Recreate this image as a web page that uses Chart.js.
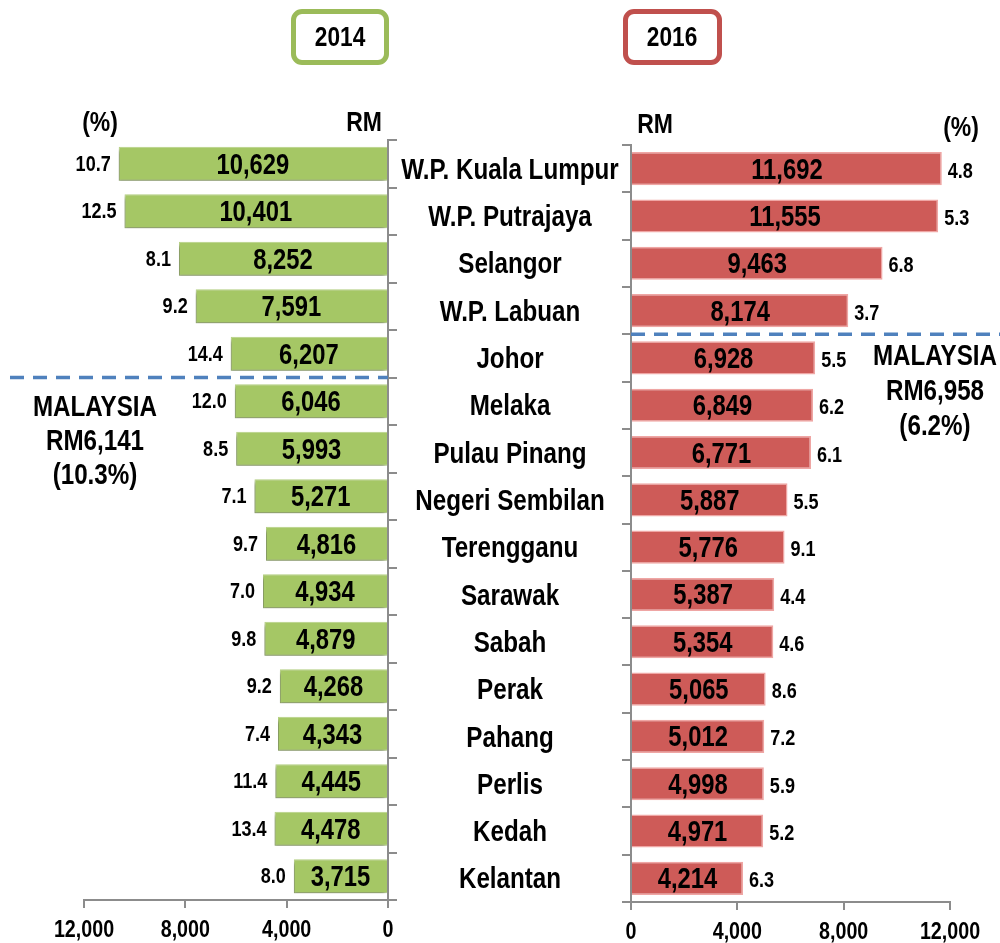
<!DOCTYPE html>
<html>
<head>
<meta charset="utf-8">
<script src="https://cdn.jsdelivr.net/npm/chart.js@4.4.1/dist/chart.umd.min.js"></script>
<style>
  body { margin: 0; background: #fff; }
  #wrap { position: relative; width: 1000px; height: 943px; font-family: "Liberation Sans", Arial, sans-serif; font-weight: bold; color: #000; }
  canvas { position: absolute; top: 0; }
  .t { position: absolute; transform: translate(-50%, -50%) scaleX(0.82); white-space: nowrap; text-align: center; font-size: 28px; }
  .big { font-size: 29.5px; }
  .box { position: absolute; box-sizing: border-box; border-radius: 11px; border: 5px solid; display: flex; align-items: center; justify-content: center; font-size: 27px; }
  .box span { display: inline-block; transform: scaleX(0.84); }
</style>
</head>
<body>
<div id="wrap">
  <div style="position:absolute;left:0;top:0;width:400px;height:943px"><canvas id="bars2014"></canvas></div>
  <div style="position:absolute;left:390px;top:0;width:610px;height:943px"><canvas id="bars2016"></canvas></div>

  <div class="box" style="left:291px;top:9px;width:98px;height:56px;border-color:#9BBB59"><span>2014</span></div>
  <div class="box" style="left:623px;top:9px;width:99px;height:56px;border-color:#C0504D"><span>2016</span></div>

  <div class="t" style="left:100px;top:122px">(%)</div>
  <div class="t" style="left:364px;top:122px">RM</div>
  <div class="t" style="left:655px;top:124px">RM</div>
  <div class="t" style="left:961px;top:127px">(%)</div>

  <div class="t big" style="left:95px;top:440px;line-height:34px">MALAYSIA<br>RM6,141<br>(10.3%)</div>
  <div class="t big" style="left:935px;top:389px;line-height:35px">MALAYSIA<br>RM6,958<br>(6.2%)</div>
</div>
<script>
const FONT = '"Liberation Sans", Arial, sans-serif'
const SQUEEZE = 0.82

const states = ['W.P. Kuala Lumpur', 'W.P. Putrajaya', 'Selangor', 'W.P. Labuan', 'Johor', 'Melaka',
  'Pulau Pinang', 'Negeri Sembilan', 'Terengganu', 'Sarawak', 'Sabah', 'Perak', 'Pahang', 'Perlis',
  'Kedah', 'Kelantan']
const income2014 = [10629, 10401, 8252, 7591, 6207, 6046, 5993, 5271, 4816, 4934, 4879, 4268, 4343, 4445, 4478, 3715]
const growth2014 = [10.7, 12.5, 8.1, 9.2, 14.4, 12.0, 8.5, 7.1, 9.7, 7.0, 9.8, 9.2, 7.4, 11.4, 13.4, 8.0]
const income2016 = [11692, 11555, 9463, 8174, 6928, 6849, 6771, 5887, 5776, 5387, 5354, 5065, 5012, 4998, 4971, 4214]
const growth2016 = [4.8, 5.3, 6.8, 3.7, 5.5, 6.2, 6.1, 5.5, 9.1, 4.4, 4.6, 8.6, 7.2, 5.9, 5.2, 6.3]
const xTicks = [0, 4000, 8000, 12000]

Chart.defaults.font.family = FONT
Chart.defaults.color = '#000'

// bold arial, squeezed to look like arial narrow
function narrowText(ctx, text, x, y, size, align) {
  ctx.save()
  ctx.font = 'bold ' + size + 'px ' + FONT
  ctx.fillStyle = '#000'
  ctx.textAlign = align
  ctx.textBaseline = 'middle'
  ctx.translate(x, y)
  ctx.scale(SQUEEZE, 1)
  ctx.fillText(text, 0, 0)
  ctx.restore()
}

// value inside bar + growth at bar end
const barLabels = {
  id: 'barLabels',
  afterDatasetsDraw(chart, args, opts) {
    const ctx = chart.ctx
    const meta = chart.getDatasetMeta(0)
    meta.data.forEach((bar, i) => {
      narrowText(ctx, chart.data.datasets[0].data[i].toLocaleString('en-US'), (bar.x + bar.base) / 2, bar.y + 2, 29, 'center')
      if (opts.side === 'left') {
        narrowText(ctx, opts.growth[i].toFixed(1), bar.x - 8, bar.y + 1, 22, 'right')
      } else {
        narrowText(ctx, opts.growth[i].toFixed(1), bar.x + 6, bar.y + 3, 22, 'left')
      }
    })
  }
}

// x tick labels drawn from the scale's ticks
const tickText = {
  id: 'tickText',
  afterDraw(chart) {
    const x = chart.scales.x
    x.ticks.forEach(t => {
      narrowText(chart.ctx, t.value.toLocaleString('en-US'), x.getPixelForValue(t.value), x.top + 30, 24, 'center')
    })
  }
}

// dashed Malaysia average line
const avgLine = {
  id: 'avgLine',
  afterDatasetsDraw(chart, args, opts) {
    const ctx = chart.ctx
    const y = chart.scales.y
    const py = (y.getPixelForValue(opts.after) + y.getPixelForValue(opts.after + 1)) / 2
    ctx.save()
    ctx.strokeStyle = '#4F81BD'
    ctx.lineWidth = 3.5
    ctx.setLineDash([14, 9])
    ctx.beginPath()
    ctx.moveTo(opts.from, py)
    ctx.lineTo(opts.to(chart), py)
    ctx.stroke()
    ctx.restore()
  }
}

// bar drop shadow
const barShadow = {
  id: 'barShadow',
  beforeDatasetDraw(chart, args, opts) {
    if (!opts.on) return
    const ctx = chart.ctx
    ctx.save()
    ctx.shadowColor = 'rgba(0,0,0,0.35)'
    ctx.shadowBlur = 4
    ctx.shadowOffsetX = -2
    ctx.shadowOffsetY = 3
  },
  afterDatasetDraw(chart, args, opts) {
    if (opts.on) chart.ctx.restore()
  }
}

// state names in the middle
const stateNames = {
  id: 'stateNames',
  afterDraw(chart) {
    const y = chart.scales.y
    states.forEach((s, i) => narrowText(chart.ctx, s, 120, y.getPixelForValue(i) + 2, 29.5, 'center'))
  }
}

const axisGrey = '#8C8C8C'

function xScale(reverse, h) {
  return {
    reverse: reverse,
    min: 0,
    max: 12000,
    afterBuildTicks: s => { s.ticks = xTicks.map(v => ({ value: v })) },
    ticks: { display: false },
    grid: { drawOnChartArea: false, tickLength: 8, color: axisGrey, lineWidth: 2 },
    border: { color: axisGrey, width: 2 },
    afterFit: s => { s.height = h }
  }
}

function yScale(pos) {
  return {
    position: pos,
    ticks: { display: false },
    grid: { drawOnChartArea: false, tickLength: 9, color: axisGrey, lineWidth: 2 },
    border: { color: axisGrey, width: 2 },
    afterFit: s => { s.width = 12 }
  }
}

new Chart(document.getElementById('bars2014'),
  {
    type: 'bar',
    data: {
      labels: states,
      datasets: [
        {
          label: '2014',
          backgroundColor: '#A5C765',
          borderColor: '#B9D486',
          borderWidth: 1,
          categoryPercentage: 1,
          barPercentage: 0.72,
          data: income2014,
        },
      ],
    },
    options: {
      indexAxis: 'y',
      responsive: true,
      maintainAspectRatio: false,
      animation: false,
      layout: { padding: { left: 84, top: 140, right: 0, bottom: 0 } },
      scales: { x: xScale(true, 43), y: yScale('right') },
      plugins: {
        legend: { display: false },
        tooltip: { enabled: false },
        barLabels: { side: 'left', growth: growth2014 },
        avgLine: { after: 4, from: 10, to: c => c.chartArea.right },
        barShadow: { on: true },
      },
    },
    plugins: [barShadow, barLabels, avgLine, tickText],
  }
)

new Chart(document.getElementById('bars2016'),
  {
    type: 'bar',
    data: {
      labels: states,
      datasets: [
        {
          label: '2016',
          backgroundColor: '#CE5B58',
          borderColor: '#EFA6A4',
          borderWidth: 1.5,
          categoryPercentage: 1,
          barPercentage: 0.7,
          data: income2016,
        },
      ],
    },
    options: {
      indexAxis: 'y',
      responsive: true,
      maintainAspectRatio: false,
      animation: false,
      layout: { padding: { left: 229, top: 145, right: 50, bottom: 0 } },
      scales: { x: xScale(false, 41), y: yScale('left') },
      plugins: {
        legend: { display: false },
        tooltip: { enabled: false },
        barLabels: { side: 'right', growth: growth2016 },
        avgLine: { after: 3, from: 241, to: c => c.width },
        barShadow: { on: false },
      },
    },
    plugins: [barShadow, barLabels, avgLine, stateNames, tickText],
  }
)
</script>
</body>
</html>
